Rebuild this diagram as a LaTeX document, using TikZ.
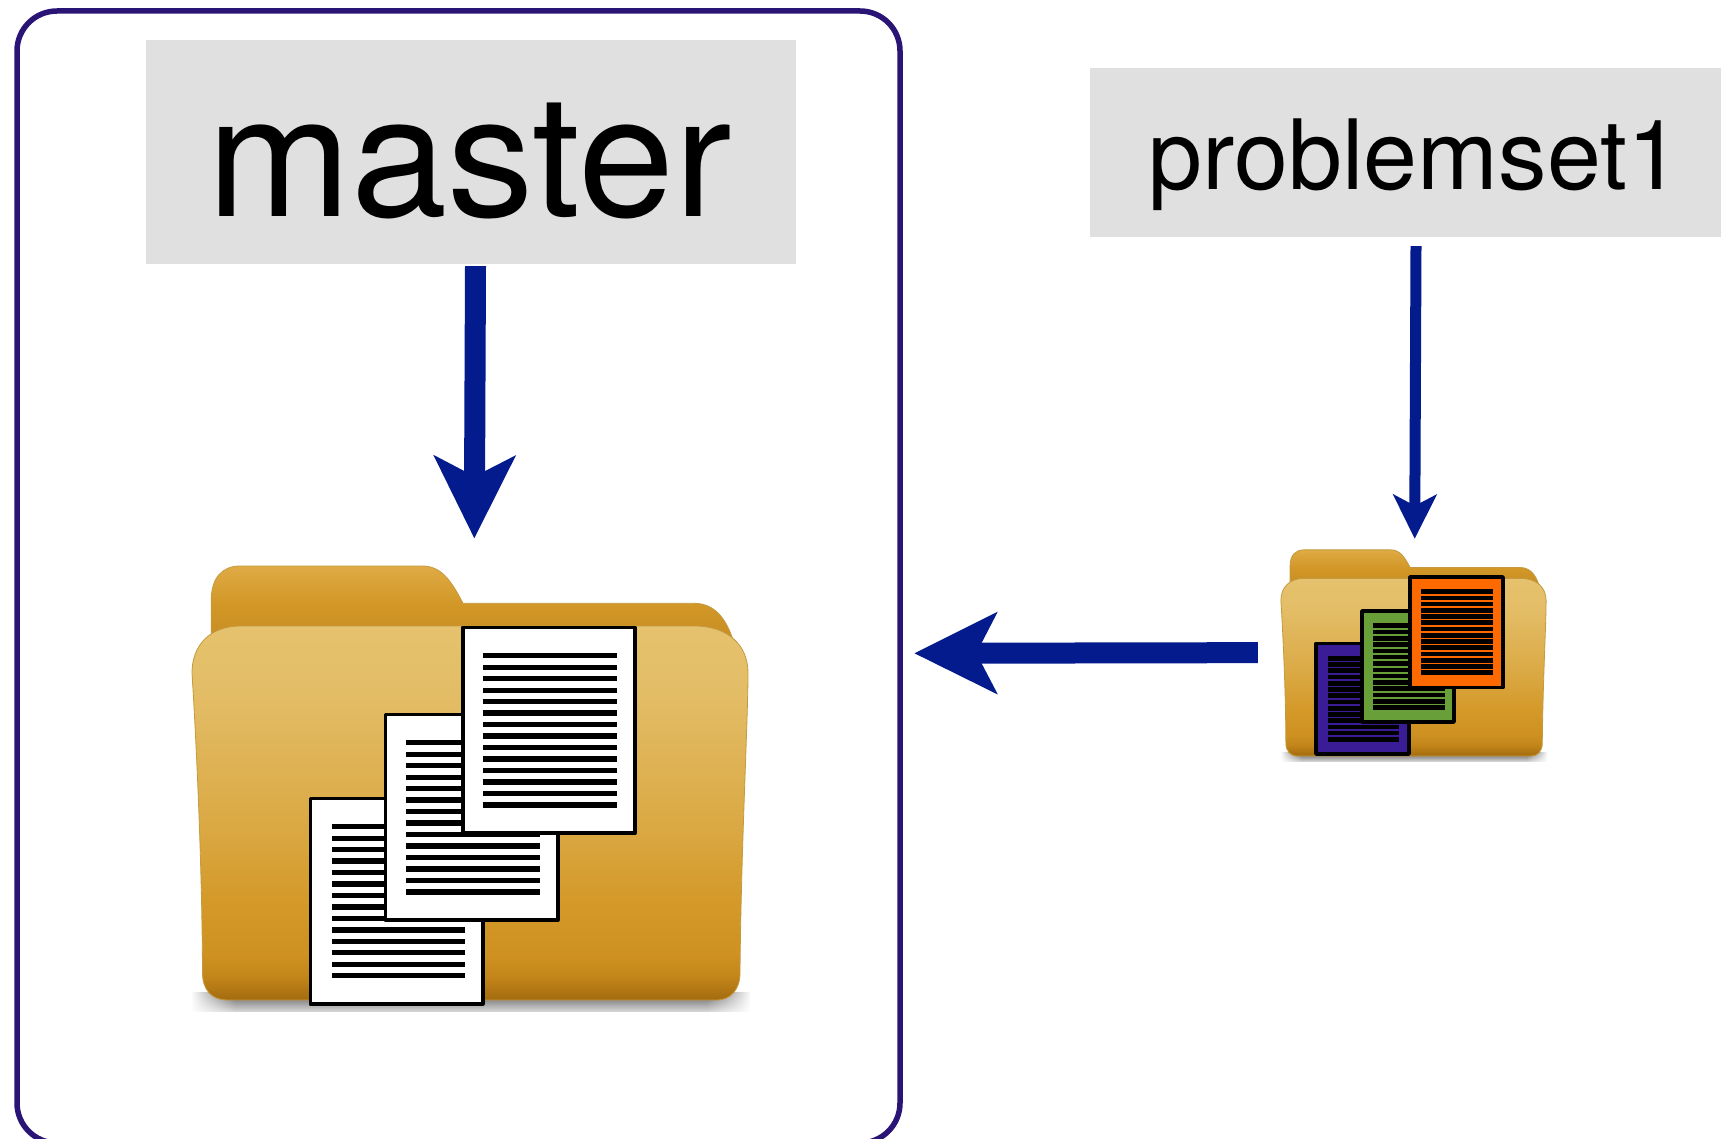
\documentclass[tikz,border=0pt]{standalone}
\usepackage{fontspec}
\setmainfont{TeX Gyre Heros}
\newfontfamily\mtitle[FakeStretch=1.017]{TeX Gyre Heros}
\usetikzlibrary{arrows.meta,fadings}
\definecolor{boxline}{HTML}{2A1475}
\definecolor{labelgrey}{HTML}{E0E0E0}
\definecolor{arrowblue}{HTML}{041B8E}
\definecolor{fedge}{HTML}{C59A3F}
\definecolor{docpurple}{HTML}{3A1C96}
\definecolor{docgreen}{HTML}{689F38}
\definecolor{docorange}{HTML}{FF6A00}
\pgfdeclareverticalshading{frontshade}{100bp}{%
  rgb(0bp)=(0.64,0.42,0.06);
  rgb(25bp)=(0.64,0.42,0.06);
  rgb(28bp)=(0.76,0.52,0.10);
  rgb(31bp)=(0.81,0.57,0.13);
  rgb(38bp)=(0.83,0.60,0.16);
  rgb(50bp)=(0.86,0.67,0.28);
  rgb(66bp)=(0.89,0.74,0.40);
  rgb(75bp)=(0.90,0.76,0.43);
  rgb(100bp)=(0.90,0.76,0.43)}
\pgfdeclareverticalshading{backshade}{100bp}{%
  rgb(0bp)=(0.78,0.55,0.14);
  rgb(25bp)=(0.78,0.55,0.14);
  rgb(50bp)=(0.82,0.59,0.15);
  rgb(75bp)=(0.875,0.67,0.27);
  rgb(100bp)=(0.875,0.67,0.27)}
\pgfdeclarehorizontalshading{sideshade}{100bp}{%
  color(0bp)=(pgftransparent!100);
  color(25bp)=(pgftransparent!100);
  color(29bp)=(pgftransparent!0);
  color(71bp)=(pgftransparent!0);
  color(75bp)=(pgftransparent!100);
  color(100bp)=(pgftransparent!100)}
\pgfdeclarefading{sidefade}{\pgfuseshading{sideshade}}
\tikzset{
  outerbox/.style={draw=boxline,line width=5.5pt,rounded corners=40pt,minimum width=883pt,minimum height=1132pt,inner sep=0pt},
  greylabel/.style={fill=labelgrey,inner sep=0pt,text depth=0pt},
  bigarrow/.style={draw=arrowblue,line width=21pt,-{Stealth[length=82pt,width=80pt,inset=20pt]}},
  smallarrow/.style={draw=arrowblue,line width=11pt,-{Stealth[length=44pt,width=43pt,inset=11pt]}},
  holder/.style={inner sep=0pt}
}
% left top right bottom | lines left | first last | fill
\newcommand{\docsheet}[8]{%
  \filldraw[fill=#8,draw=black,line width=3.6pt,line join=round] (#1,#2) rectangle (#3,#4);
  \pgfmathsetmacro{\pitch}{(#7-#6)/13}
  \foreach \k in {0,...,13}{%
    \pgfmathsetmacro{\yy}{#6+\k*\pitch}
    \fill[black] (#5,\yy-2.65) rectangle (#5+133.6,\yy+2.65);
  }%
}
\newcommand{\smalldoc}[8]{%
  \filldraw[fill=#8,draw=black,line width=3.6pt,line join=round] (#1,#2) rectangle (#3,#4);
  \pgfmathsetmacro{\pitch}{(#7-#6)/13}
  \foreach \k in {0,...,13}{%
    \pgfmathsetmacro{\yy}{#6+\k*\pitch}
    \fill[black] (#5,\yy-2.3) rectangle (#5+71.7,\yy+2.3);
  }%
}
\newcommand{\folderart}{%
  \path[shade,top color=black!65,bottom color=black!15,path fading=sidefade]
    (192,992) rectangle (750,1011.7);
  \path[shading=backshade,draw=fedge,line width=0.8pt]
    (211.3,645) -- (211.3,600) .. controls (211.3,578) and (222,566) .. (240,566)
    -- (422,566) .. controls (440,566) and (450,578) .. (463,603.3)
    -- (694,603.3) .. controls (712,603.3) and (725,615) .. (733,640) -- cycle;
  \path[shading=frontshade,draw=fedge,line width=0.8pt]
    (192,673) .. controls (192,645) and (210,626) .. (241,626)
    -- (694,626) .. controls (728,626) and (748,645) .. (748,673)
    .. controls (748,720) and (741,850) .. (740,973)
    .. controls (740,990) and (730,1000) .. (717,1000)
    -- (227,1000) .. controls (212,1000) and (202.5,990) .. (202.5,973)
    .. controls (202,850) and (195,720) .. (192,673) -- cycle;
}
\begin{document}
\begin{tikzpicture}[x=1pt,y=-1pt]
\useasboundingbox (0,0) rectangle (1721,1139);
\fill[white] (0,0) rectangle (1721,1139);
\node[outerbox] (mainbox) at (458.5,577) {};
\node[greylabel,minimum width=650pt,minimum height=224pt,text height=129.4pt] (master) at (471,152)
  {\mtitle\fontsize{170}{170}\selectfont\hspace*{-3pt}master};
\node[greylabel,minimum width=631.5pt,minimum height=169pt,text height=75pt] (pset) at (1405.25,152.5)
  {\fontsize{97}{97}\selectfont\hspace*{19pt}problemset1};
\node[holder,minimum width=556pt,minimum height=445.7pt] (bigfolder) at (470,788.85) {};
\node[holder,minimum width=265.3pt,minimum height=211.7pt] (smallfolder) at (1413.35,655.85) {};
% large folder
\folderart
\docsheet{310.3}{798.5}{482.8}{1003.9}{331.5}{826.7}{975.7}{white}
\docsheet{385.3}{714.5}{557.8}{920.2}{406.1}{742.7}{892}{white}
\docsheet{462.7}{627.5}{635.1}{833.2}{483.4}{655.7}{805}{white}
% small folder
\begin{scope}[shift={(1189.3,281)},xscale=0.477,yscale=0.475]
\folderart
\end{scope}
\smalldoc{1316}{643.5}{1409}{754}{1327.7}{658.3}{739.4}{docpurple}
\smalldoc{1362}{611}{1454}{722}{1372.9}{625.6}{707.7}{docgreen}
\smalldoc{1410}{577}{1503}{687.5}{1421}{591.6}{672.7}{docorange}
% connectors
\draw[bigarrow] ([xshift=4.5pt,yshift=-2pt]master.south) -- ([xshift=4.3pt,yshift=27.3pt]bigfolder.north);
\draw[smallarrow] ([xshift=10.75pt,yshift=-9pt]pset.south) -- ([xshift=1.35pt,yshift=11pt]smallfolder.north);
\draw[bigarrow] ([xshift=-22.7pt,yshift=3.2pt]smallfolder.west) -- ([xshift=11.5pt,yshift=-76.3pt]mainbox.east);
\end{tikzpicture}
\end{document}
